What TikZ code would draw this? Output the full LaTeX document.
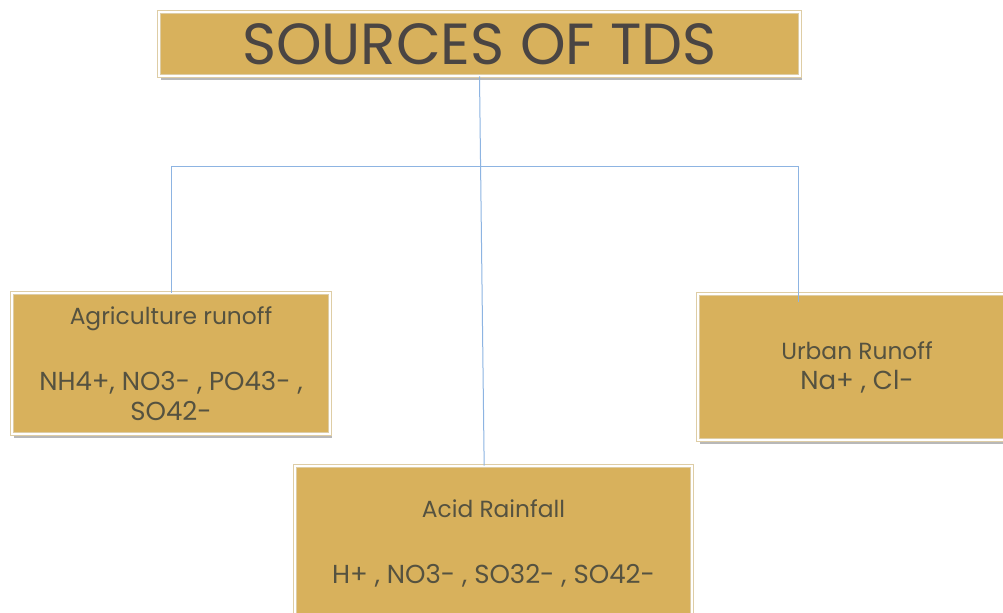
\documentclass[tikz,border=0pt]{standalone}
\usepackage{fontspec}
\setmainfont{Poppins}
\usetikzlibrary{shadows}
\definecolor{gold}{RGB}{216,177,92}
\definecolor{rim}{RGB}{222,205,165}
\definecolor{ink}{RGB}{85,82,64}
\definecolor{heading}{RGB}{74,69,67}
\definecolor{wire}{RGB}{141,180,226}
\newcommand\ions{\fontsize{19.5}{22.5}\selectfont}
\begin{document}
\begin{tikzpicture}[x=0.75pt,y=-0.75pt,
    srcbox/.style={draw=rim,double=white,double distance=1.5pt,line width=0.6pt,
      fill=gold,text=ink,align=center,inner sep=0pt,
      drop shadow={shadow xshift=1.5pt,shadow yshift=-3pt,fill=black!55},
      font=\fontsize{17.5}{22.5}\selectfont},
    link/.style={draw=wire,line width=0.75pt}]
	\clip (0,0) rectangle (1003,612);
	\fill[white] (0,0) rectangle (1003,612);

	\node[srcbox,minimum width=480.75pt,minimum height=48pt,text=heading,
	  font=\fontsize{43.5}{50}\selectfont] (title) at (479.5,44) {SOURCES OF TDS};

	\node[srcbox,minimum width=238.5pt,minimum height=105.75pt] (agri) at (171,363.5)
	  {Agriculture runoff\\[27pt]\ions NH4+, NO3- , PO43- ,\\\ions SO42-};
	\node[srcbox,minimum width=238.5pt,minimum height=109.5pt] (urban) at (857,367)
	  {Urban Runoff\\\ions Na+ , Cl-};
	\node[srcbox,minimum width=297.75pt,minimum height=115.5pt] (acid) at (493.5,543)
	  {Acid Rainfall\\[27pt]\ions H+ , NO3- , SO32- , SO42-};

	\coordinate (busL) at (171,166);
	\coordinate (busR) at (798,166);
	\draw[link] (title.south) -- ([xshift=-7pt]acid.north);
	\draw[link] (agri.north) -- (busL) -- (busR) -- ([yshift=-6pt]busR |- urban.north);
\end{tikzpicture}
\end{document}
